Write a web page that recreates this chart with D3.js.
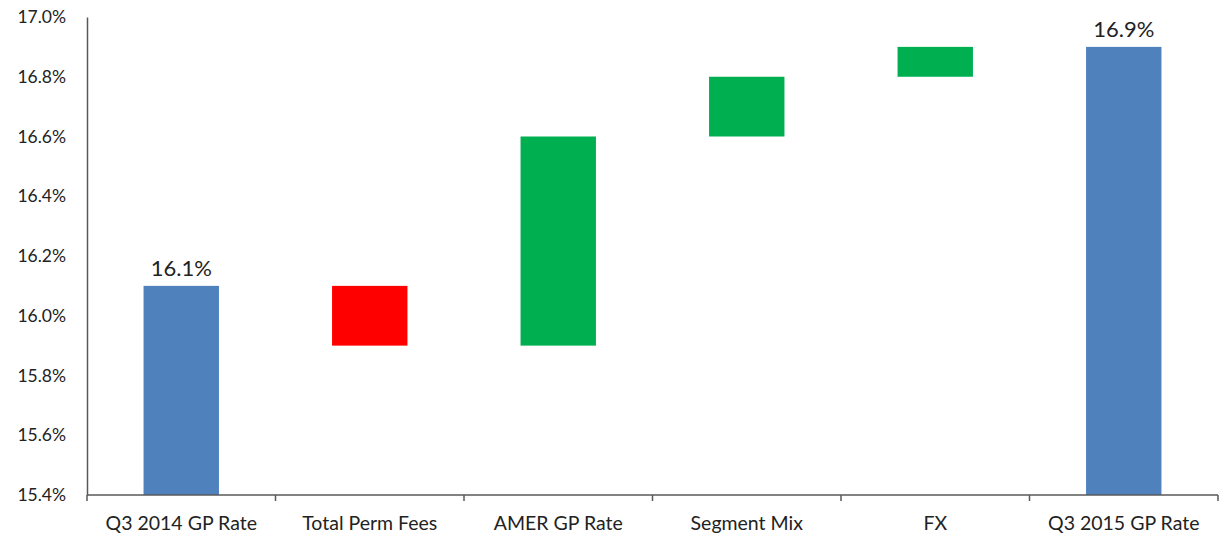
<!DOCTYPE html>
<html>
<head>
<meta charset="utf-8">
<script src="https://cdn.jsdelivr.net/npm/d3@7"></script>
<style>
  html, body { margin: 0; padding: 0; background: #fff; }
  svg { display: block; font-family: Lato, "Open Sans", sans-serif; }
</style>
</head>
<body>
<svg id="chart" width="1222" height="537"></svg>
<script>
// Gross profit rate bridge, Q3 2014 to Q3 2015 (percent)
const categories = ["Q3 2014 GP Rate", "Total Perm Fees", "AMER GP Rate", "Segment Mix", "FX", "Q3 2015 GP Rate"];
const barStart   = [15.4, 16.1, 15.9, 16.6, 16.8, 15.4];
const barEnd     = [16.1, 15.9, 16.6, 16.8, 16.9, 16.9];
const barKind    = ["total", "decrease", "increase", "increase", "increase", "total"];
const valueLabels = ["16.1%", "", "", "", "", "16.9%"];
const yTicks     = [15.4, 15.6, 15.8, 16.0, 16.2, 16.4, 16.6, 16.8, 17.0];

const colors = { total: "#4F81BD", decrease: "#FF0000", increase: "#00B050" };

const svg = d3.select("#chart");
const plot = { left: 87, right: 1218, top: 17, bottom: 495 };

const x = d3.scaleBand().domain(categories).range([plot.left, plot.right]).padding(0);
const y = d3.scaleLinear().domain([15.4, 17.0]).range([plot.bottom, plot.top]);
const barW = x.bandwidth() * 0.4;

const rows = categories.map((c, i) => ({
  cat: c, lo: Math.min(barStart[i], barEnd[i]), hi: Math.max(barStart[i], barEnd[i]),
  kind: barKind[i], label: valueLabels[i]
}));

// bars
svg.append("g").selectAll("rect").data(rows).join("rect")
  .attr("x", d => x(d.cat) + x.bandwidth() / 2 - barW / 2)
  .attr("width", barW)
  .attr("y", d => y(d.hi))
  .attr("height", d => y(d.lo) - y(d.hi))
  .attr("fill", d => colors[d.kind]);

// value labels on totals
svg.append("g").selectAll("text").data(rows.filter(d => d.label)).join("text")
  .attr("x", d => x(d.cat) + x.bandwidth() / 2)
  .attr("y", d => y(d.hi) - 10)
  .attr("text-anchor", "middle")
  .attr("font-size", 22)
  .attr("fill", "#222")
  .text(d => d.label);

// y axis
const yAxis = svg.append("g").attr("transform", `translate(${plot.left},0)`)
  .call(d3.axisLeft(y).tickValues(yTicks).tickFormat(d => d.toFixed(1) + "%").tickSize(0).tickPadding(21));
yAxis.select(".domain").attr("stroke", "#595959").attr("stroke-width", 1.5);
yAxis.selectAll("text").attr("font-size", 17.5).attr("fill", "#222").attr("font-family", "Lato, sans-serif");

// x axis: boundary ticks between categories
const xAxisG = svg.append("g").attr("transform", `translate(0,${plot.bottom})`);
xAxisG.append("line").attr("x1", plot.left).attr("x2", plot.right).attr("stroke", "#595959").attr("stroke-width", 1.5);
const bounds = categories.map(c => x(c)).concat([plot.right]);
xAxisG.selectAll("line.tick").data(bounds).join("line").attr("class", "tick")
  .attr("x1", d => d).attr("x2", d => d).attr("y1", 0).attr("y2", 6)
  .attr("stroke", "#595959").attr("stroke-width", 1.5);
xAxisG.selectAll("text").data(categories).join("text")
  .attr("x", d => x(d) + x.bandwidth() / 2)
  .attr("y", 28)
  .attr("dy", "0.35em")
  .attr("text-anchor", "middle")
  .attr("font-size", 19.5)
  .attr("fill", "#222")
  .text(d => d);
</script>
</body>
</html>
